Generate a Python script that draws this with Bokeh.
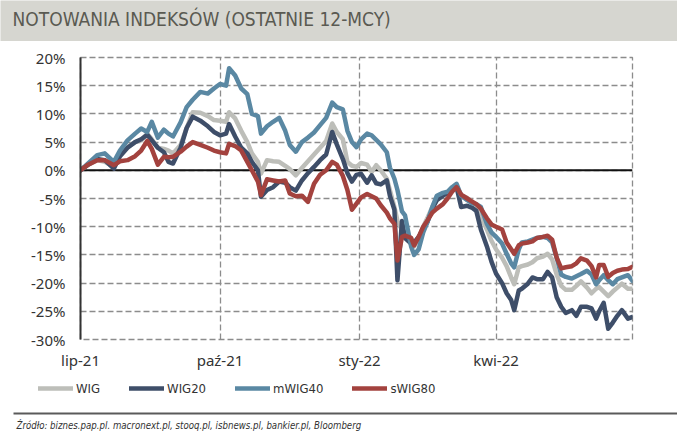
import pandas as pd
from bokeh.plotting import figure
from bokeh.models import (Range1d, FixedTicker, PrintfTickFormatter, CustomJSTickFormatter,
                          Span, Legend, LegendItem, ColumnDataSource)
from bokeh.layouts import column
from bokeh.core.properties import value
from bokeh.embed import file_html
from bokeh.resources import INLINE

title_text = "NOTOWANIA INDEKSÓW (OSTATNIE 12-MCY)"
source_text = "Źródło: biznes.pap.pl. macronext.pl, stooq.pl, isbnews.pl, bankier.pl, Bloomberg"

dates = ["2021-07-01", "2021-07-06", "2021-07-12", "2021-07-17", "2021-07-23", "2021-07-27", "2021-08-01", "2021-08-06", "2021-08-10", "2021-08-14",
         "2021-08-17", "2021-08-21", "2021-08-25", "2021-08-28", "2021-08-31", "2021-09-05", "2021-09-09", "2021-09-13", "2021-09-18", "2021-09-23",
         "2021-09-27", "2021-10-01", "2021-10-05", "2021-10-07", "2021-10-11", "2021-10-15", "2021-10-19", "2021-10-22", "2021-10-26", "2021-10-28",
         "2021-11-01", "2021-11-05", "2021-11-09", "2021-11-13", "2021-11-16", "2021-11-20", "2021-11-24", "2021-11-28", "2021-12-02", "2021-12-06",
         "2021-12-10", "2021-12-14", "2021-12-17", "2021-12-21", "2021-12-24", "2021-12-27", "2021-12-30", "2022-01-02", "2022-01-06", "2022-01-09",
         "2022-01-12", "2022-01-15", "2022-01-19", "2022-01-21", "2022-01-24", "2022-01-26", "2022-01-29", "2022-01-31", "2022-02-04", "2022-02-06",
         "2022-02-09", "2022-02-12", "2022-02-15", "2022-02-18", "2022-02-21", "2022-02-25", "2022-02-28", "2022-03-03", "2022-03-06", "2022-03-09",
         "2022-03-13", "2022-03-16", "2022-03-19", "2022-03-22", "2022-03-26", "2022-03-29", "2022-04-01", "2022-04-05", "2022-04-08", "2022-04-11",
         "2022-04-13", "2022-04-16", "2022-04-18", "2022-04-22", "2022-04-25", "2022-04-28", "2022-05-02", "2022-05-05", "2022-05-08", "2022-05-11",
         "2022-05-14", "2022-05-17", "2022-05-21", "2022-05-24", "2022-05-27", "2022-05-31", "2022-06-03", "2022-06-06", "2022-06-08", "2022-06-11",
         "2022-06-14", "2022-06-17", "2022-06-20", "2022-06-23", "2022-06-27", "2022-06-30"]

wig = [0, 1.0, 1.8, 1.5, 0.6, 2.5, 4.1, 5.0, 5.3, 6.5,
       5.5, 4.0, 3.8, 3.5, 3.0, 4.5, 7.5, 10.3, 10.2, 9.6,
       8.9, 8.8, 8.6, 10.3, 9.2, 7.0, 5.0, 3.0, 1.5, -0.6,
       1.8, 1.6, 1.5, 0.8, 0.2, -0.9, 0.4, 1.6, 2.8, 4.0,
       5.2, 8.3, 6.8, 5.5, 1.5, 0.8, 0.6, 1.3, 1.0, -0.3,
       0.9, 0.0, -1.5, -3.5, -6.5, -9.0, -10.6, -11.5, -12.5, -13.5,
       -12.0, -10.0, -8.3, -6.5, -5.0, -4.5, -4.0, -3.2, -3.0, -4.5,
       -4.9, -5.5, -6.5, -8.3, -10.5, -12.5, -14.0, -15.5, -17.0, -19.0,
       -20.2, -17.2, -17.0, -16.7, -16.3, -15.6, -15.3, -14.8, -15.8, -18.5,
       -20.5, -21.2, -21.2, -20.5, -19.7, -20.8, -21.8, -21.0, -20.7, -21.5,
       -22.3, -21.5, -20.8, -20.1, -21.0, -21.0]

wig20 = [0, 1.0, 2.0, 1.8, 0.3, 2.5, 4.0, 5.0, 5.5, 6.3,
         5.3, 4.0, 3.2, 1.5, 1.2, 4.0, 7.5, 9.5, 8.8, 7.8,
         6.8, 6.2, 6.5, 8.2, 6.0, 4.0, 3.0, 1.5, 0.0, -4.7,
         -3.5, -3.0, -2.0, -2.2, -3.0, -3.6, -1.8, -0.5, 0.6, 1.8,
         2.8, 6.8, 4.6, 2.0, -0.5, -2.0, -0.8, -0.6, -2.2, -0.9,
         -2.3, -2.5, -1.8, -4.5, -7.0, -19.5, -9.0, -12.0, -13.0, -12.8,
         -11.8, -10.5, -9.0, -6.8, -5.3, -4.5, -4.0, -3.5, -3.0, -6.5,
         -6.3, -6.6, -7.2, -10.5, -13.5, -16.2, -18.3, -20.0, -21.8, -23.0,
         -24.8, -21.3, -21.0, -20.1, -19.0, -19.3, -19.3, -18.0, -19.0, -22.5,
         -24.2, -25.3, -24.8, -25.8, -24.2, -24.2, -24.5, -26.3, -25.0, -23.5,
         -28.1, -27.0, -25.8, -24.8, -26.3, -26.0]

mwig40 = [0, 1.2, 2.7, 3.0, 1.5, 3.5, 5.3, 6.5, 7.4, 6.8,
          8.6, 5.8, 7.2, 6.5, 6.0, 8.5, 11.2, 12.5, 13.9, 13.6,
          14.5, 15.3, 15.0, 18.1, 16.8, 14.5, 13.5, 10.0, 9.6, 6.5,
          7.8, 8.6, 9.3, 7.0, 4.5, 3.3, 5.0, 5.8, 6.7, 8.0,
          9.3, 12.0, 11.2, 10.8, 7.0, 5.0, 4.1, 5.5, 6.5, 6.2,
          5.4, 4.6, 3.2, 0.5, -1.5, -3.5, -7.3, -8.0, -13.5, -15.0,
          -14.0, -11.0, -9.0, -6.5, -4.5, -4.0, -3.8, -3.0, -2.4, -4.5,
          -5.3, -5.8, -6.0, -6.5, -9.5, -11.0, -11.8, -13.0, -14.8, -16.5,
          -17.2, -14.0, -12.8, -12.6, -12.3, -12.0, -11.8, -12.0, -12.8, -15.5,
          -18.5, -18.9, -19.2, -18.8, -18.4, -17.8, -18.5, -20.2, -19.5, -18.6,
          -19.5, -20.2, -19.3, -19.0, -18.6, -19.6]

swig80 = [0, 1.0, 1.8, 1.8, 0.9, 1.6, 1.8, 2.5, 3.5, 5.2,
          3.8, 1.0, 2.4, 2.3, 2.4, 3.3, 4.2, 5.0, 4.5, 4.0,
          3.5, 3.2, 3.0, 4.7, 4.3, 3.5, 1.5, 0.0, -2.0, -4.4,
          -1.6, -1.8, -2.0, -1.8, -4.1, -4.6, -4.5, -5.6, -2.4, -0.8,
          0.0, 1.5, 1.0, -1.0, -3.5, -7.0, -5.9, -4.8, -4.2, -4.6,
          -5.0, -6.2, -7.5, -8.5, -9.5, -16.0, -11.8, -11.6, -12.0, -13.3,
          -11.8, -10.0, -8.8, -7.5, -6.8, -6.0, -5.0, -3.8, -3.0, -4.3,
          -5.0, -5.5, -6.0, -6.8, -8.5, -9.6, -10.0, -10.5, -12.8, -14.0,
          -14.8, -13.3, -13.0, -12.8, -12.6, -12.0, -11.8, -11.6, -12.3, -15.5,
          -17.4, -17.2, -17.0, -16.5, -15.6, -16.0, -17.0, -19.0, -16.8, -16.8,
          -18.9, -18.2, -17.8, -17.6, -17.5, -17.1]

series_names = ["WIG", "WIG20", "mWIG40", "sWIG80"]
series_values = [wig, wig20, mwig40, swig80]
series_colors = ["#BDBEB9", "#3E4E69", "#5A88A3", "#A3423E"]

quarter_ticks = ["2021-07-01", "2021-10-01", "2022-01-01", "2022-04-01"]
month_names = ["sty", "lut", "mar", "kwi", "maj", "cze", "lip", "sie", "wrz", "paź", "lis", "gru"]
y_ticks = [-30, -25, -20, -15, -10, -5, 0, 5, 10, 15, 20]

W = 677
GRID = "#8C8C8C"
TXT = "#333333"
COND = "DejaVu Sans Condensed, Roboto, sans-serif"

# ---------- title bar ----------
top = figure(width=W, height=41, output_backend="svg", toolbar_location=None,
             x_range=Range1d(0, W), y_range=Range1d(41, 0),
             x_axis_type=None, y_axis_type=None, min_border=0)
top.frame_align = False
top.grid.visible = False
top.outline_line_color = None
top.background_fill_color = "#D6D6D0"
top.border_fill_color = "#D6D6D0"
top.text(x=[12], y=[18], text=[title_text], text_font=value(COND),
         text_font_size="19px", text_color="#5A5A52", text_baseline="middle", text_align="left")

# ---------- main chart ----------
x = pd.to_datetime(dates)
p = figure(width=W, height=331, x_axis_type="datetime", output_backend="svg", toolbar_location=None,
           x_range=Range1d(pd.Timestamp("2021-07-01"), pd.Timestamp("2022-06-30")),
           y_range=Range1d(-30, 20),
           min_border_left=80, min_border_right=45, min_border_top=16, min_border_bottom=33)
p.background_fill_color = "white"
p.border_fill_color = "white"
p.outline_line_color = GRID
p.outline_line_dash = "6 3"
p.outline_line_width = 1.3

xticker = FixedTicker(ticks=[pd.Timestamp(t).timestamp() * 1000 for t in quarter_ticks])
yticker = FixedTicker(ticks=y_ticks)
p.xaxis.ticker = xticker
p.xgrid.ticker = xticker
p.yaxis.ticker = yticker
p.ygrid.ticker = yticker
for g in (p.xgrid, p.ygrid):
    g.grid_line_color = GRID
    g.grid_line_dash = "6 3"
    g.grid_line_width = 1.3

p.xaxis.formatter = CustomJSTickFormatter(args=dict(names=month_names), code="""
const d = new Date(tick);
return names[d.getUTCMonth()] + "-" + String(d.getUTCFullYear()).slice(2);
""")
p.yaxis.formatter = PrintfTickFormatter(format="%d%%")

p.xaxis.axis_line_color = None
p.yaxis.axis_line_color = "#333333"
p.yaxis.axis_line_width = 2
for ax in (p.xaxis, p.yaxis):
    ax.major_tick_line_color = None
    ax.minor_tick_line_color = None
    ax.major_tick_out = 0
    ax.major_tick_in = 0
    ax.major_label_text_font = "Noto Sans"
    ax.major_label_text_font_size = "15px"
    ax.major_label_text_color = TXT
p.yaxis.major_label_standoff = 15
p.xaxis.major_label_standoff = 10

p.add_layout(Span(location=0, dimension="width", line_color="#111111", line_width=2, level="underlay"))

sources = []
for name, vals, col in zip(series_names, series_values, series_colors):
    src = ColumnDataSource(dict(x=x, y=vals))
    sources.append(src)
    p.line("x", "y", source=src, line_color=col, line_width=4.5,
           line_join="round", line_cap="round")

# ---------- legend + source footer ----------
bottom = figure(width=W, height=68, output_backend="svg", toolbar_location=None,
                x_range=Range1d(0, W), y_range=Range1d(68, 0),
                x_axis_type=None, y_axis_type=None, min_border=0)
bottom.frame_align = False
bottom.grid.visible = False
bottom.outline_line_color = None

items = []
for name, src, col in zip(series_names, sources, series_colors):
    # same data as the chart; lies outside this strip's range, only its legend key shows
    r = bottom.line("x", "y", source=src, line_color=col, line_width=4.5, line_cap="round")
    items.append(LegendItem(label=name, renderers=[r]))

legend = Legend(items=items, orientation="horizontal", location=(38, 42),
                glyph_width=35, glyph_height=20, label_standoff=3, spacing=29,
                padding=0, margin=0, border_line_color=None, background_fill_alpha=0,
                label_text_font=COND, label_text_font_size="13px",
                label_text_color=TXT)
bottom.add_layout(legend)

bottom.segment(x0=[13], y0=[41], x1=[W], y1=[41], line_color="#5A5A5A", line_width=2)
bottom.text(x=[16], y=[53], text=[source_text], text_font=value(COND),
            text_font_style="italic", text_font_size="9.6px", text_color=TXT,
            text_baseline="middle", text_align="left")

layout = column(top, p, bottom, spacing=0)
open("out.html", "w").write(file_html(layout, INLINE))
